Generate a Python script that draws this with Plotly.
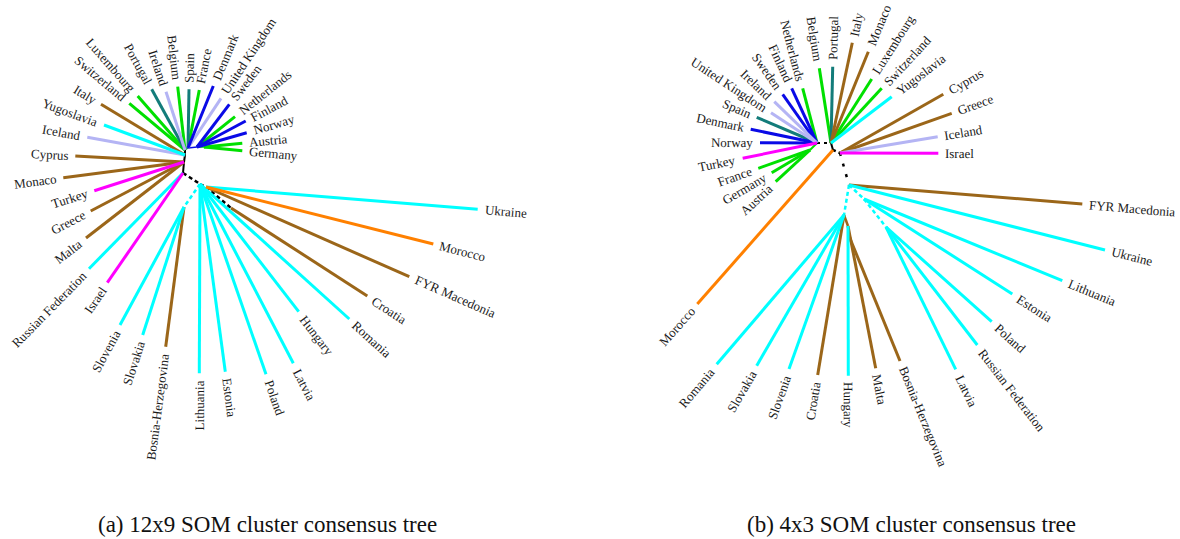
import math
import plotly.graph_objects as go

# ---- colour groups -------------------------------------------------------
COLORS = {
    "green": "#00e000",
    "teal": "#137c7a",
    "lavender": "#b4b4f4",
    "blue": "#0a0ae6",
    "cyan": "#00ffff",
    "brown": "#9b6619",
    "magenta": "#ff00ff",
    "orange": "#ff8000",
    "black": "#000000",
}

# ---- tree (a): 12x9 SOM consensus tree -----------------------------------
a_nodes = {
    "a1": (185, 150), "a2": (188, 148), "a3": (197, 147), "a4": (204, 147),
    "b1": (185, 155), "b2": (184, 162), "c": (183, 173), "d": (200, 184),
    "e": (206, 187), "f": (231, 208), "g": (184, 207),
}
a_edges = [
    ("a1", "a2", "teal", "solid", 1.5), ("a2", "a3", "blue", "solid", 1.5),
    ("a3", "a4", "green", "solid", 1.5), ("a1", "b1", "black", "solid", 2),
    ("b1", "b2", "black", "solid", 2), ("b2", "c", "black", "solid", 2),
    ("c", "d", "black", "dash", 2.5), ("d", "e", "black", "dash", 2.5),
    ("e", "f", "black", "dash", 2.5), ("d", "g", "cyan", "dash", 2.5),
]
a_names = ["Switzerland", "Luxembourg", "Portugal", "Ireland", "Belgium", "Spain",
           "France", "Denmark", "United Kingdom", "Sweden", "Netherlands", "Finland",
           "Norway", "Austria", "Germany", "Italy", "Yugoslavia", "Iceland", "Cyprus",
           "Monaco", "Turkey", "Greece", "Malta", "Russian Federation", "Israel",
           "Slovenia", "Slovakia", "Bosnia-Herzegovina", "Lithuania", "Estonia",
           "Poland", "Latvia", "Hungary", "Romania", "Croatia", "FYR Macedonia",
           "Morocco", "Ukraine"]
a_groups = ["green", "green", "teal", "lavender", "green", "teal",
            "green", "blue", "lavender", "blue", "green", "blue",
            "blue", "green", "green", "brown", "cyan", "lavender", "brown",
            "brown", "magenta", "brown", "brown", "cyan", "magenta",
            "cyan", "cyan", "brown", "cyan", "cyan",
            "cyan", "cyan", "cyan", "cyan", "brown", "brown",
            "orange", "cyan"]
a_parent = ["a1", "a1", "a1", "a1", "a1", "a2",
            "a2", "a2", "a2", "a3", "a3", "a3",
            "a3", "a4", "a4", "b1", "b1", "b1", "b2",
            "b2", "b2", "b2", "b2", "c", "c",
            "g", "g", "g", "d", "d",
            "d", "d", "d", "d", "f", "e",
            "e", "e"]
a_tip_x = [129.3, 137.7, 151.7, 166.0, 177.7, 189.0,
           199.3, 213.3, 221.0, 229.3, 235.0, 245.7,
           246.7, 242.3, 242.3, 101.0, 104.0, 87.3, 75.3,
           63.3, 94.3, 90.7, 86.0, 89.0, 107.3,
           120.0, 142.7, 165.7, 199.3, 225.3,
           266.0, 293.3, 298.7, 349.3, 367.3, 409.3,
           433.3, 477.7]
a_tip_y = [103.3, 96.0, 89.3, 91.7, 86.7, 89.3,
           90.0, 86.0, 98.3, 104.3, 116.7, 121.0,
           132.7, 143.3, 150.7, 104.3, 125.0, 137.3, 156.0,
           177.7, 190.7, 211.0, 238.0, 268.7, 282.7,
           325.0, 335.0, 346.7, 373.3, 371.7,
           374.3, 363.3, 311.7, 319.0, 296.0, 276.7,
           244.0, 209.3]

# ---- tree (b): 4x3 SOM consensus tree ------------------------------------
b_nodes = {
    "A": (817, 143), "A2": (810, 150), "B": (831, 143), "M": (833, 150),
    "C": (840, 153), "D": (849, 185), "E": (864, 199), "F": (886, 227),
    "G": (844, 215), "H": (848, 226), "I": (849, 236),
}
b_edges = [
    ("A2", "A", "green", "solid", 2), ("A", "B", "black", "3px,4px", 2),
    ("B", "M", "black", "solid", 2), ("M", "C", "black", "3px,3px", 2.5),
    ("C", "D", "black", "dot", 2.5), ("D", "E", "cyan", "dash", 2.5),
    ("E", "F", "cyan", "dash", 2.5), ("D", "G", "cyan", "dash", 2.5),
    ("G", "H", "brown", "solid", 2.5), ("H", "I", "brown", "dash", 2.5),
]
b_names = ["Belgium", "Portugal", "Italy", "Monaco", "Luxembourg", "Switzerland",
           "Yugoslavia", "Netherlands", "Finland", "Sweden", "Ireland",
           "United Kingdom", "Spain", "Denmark", "Norway", "Turkey", "France",
           "Germany", "Austria", "Morocco", "Cyprus", "Greece", "Iceland", "Israel",
           "FYR Macedonia", "Ukraine", "Lithuania", "Estonia", "Poland",
           "Russian Federation", "Latvia", "Romania", "Slovakia", "Slovenia",
           "Croatia", "Hungary", "Malta", "Bosnia-Herzegovina"]
b_groups = ["green", "teal", "brown", "brown", "green", "green",
            "cyan", "green", "blue", "blue", "lavender",
            "lavender", "teal", "blue", "blue", "magenta", "green",
            "green", "green", "orange", "brown", "brown", "lavender", "magenta",
            "brown", "cyan", "cyan", "cyan", "cyan",
            "cyan", "cyan", "cyan", "cyan", "cyan",
            "brown", "cyan", "brown", "brown"]
b_parent = ["B", "B", "B", "B", "B", "B",
            "B", "A", "A", "A", "A",
            "A", "A", "A", "A", "A", "A2",
            "A2", "A2", "M", "C", "C", "C", "C",
            "D", "D", "E", "E", "F",
            "F", "F", "G", "G", "G",
            "G", "H", "H", "I"]
b_tip_x = [819.3, 832.7, 852.3, 868.3, 871.7, 881.7,
           891.7, 802.7, 791.7, 782.7, 774.3,
           771.0, 756.7, 750.7, 760.0, 742.7, 758.3,
           771.7, 775.7, 697.3, 943.3, 951.7, 937.7, 938.3,
           1082.3, 1105.0, 1062.3, 1012.3, 991.7,
           977.3, 955.7, 716.7, 756.7, 789.0,
           817.7, 848.3, 875.7, 900.0]
b_tip_y = [68.3, 66.7, 42.7, 51.7, 79.0, 88.3,
           96.7, 88.3, 88.3, 94.3, 101.7,
           112.7, 117.3, 129.3, 142.7, 158.3, 168.3,
           172.7, 181.7, 304.0, 94.3, 113.3, 136.7, 153.3,
           204.0, 250.0, 280.7, 294.0, 321.7,
           345.0, 369.3, 364.3, 365.7, 369.0,
           375.0, 375.7, 368.3, 361.0]

captions = ["(a) 12x9 SOM cluster consensus tree", "(b) 4x3 SOM cluster consensus tree"]
caption_x = [267, 911]

# ---- helpers --------------------------------------------------------------
SERIF = "Liberation Serif, Times New Roman, serif"
LABEL_SIZE = 13
_W = {  # Times advance widths (per em)
    **dict(zip("abcdefghijklmnopqrstuvwxyz",
               [.444, .5, .444, .5, .444, .333, .5, .5, .278, .278, .5, .278, .778,
                .5, .5, .5, .5, .333, .389, .278, .5, .5, .722, .5, .5, .444])),
    **dict(zip("ABCDEFGHIJKLMNOPQRSTUVWXYZ",
               [.722, .667, .667, .722, .611, .556, .722, .722, .333, .389, .722,
                .611, .889, .722, .722, .556, .722, .667, .556, .611, .722, .722,
                .944, .722, .722, .611])),
    " ": .25, "-": .333,
}
DASHES = {"solid": "solid", "dash": "4px,3px", "dot": "3px,8px"}


def text_width(s, size):
    return sum(_W.get(ch, .5) for ch in s) * size


fig = go.Figure()
annotations = []


def draw_tree(nodes, edges, names, groups, parents, tip_x, tip_y):
    # internal edges
    for n1, n2, grp, dash, lw in edges:
        x0, y0 = nodes[n1]
        x1, y1 = nodes[n2]
        fig.add_trace(go.Scatter(
            x=[x0, x1], y=[y0, y1], mode="lines", hoverinfo="skip",
            line=dict(color=COLORS[grp], width=lw, dash=DASHES.get(dash, dash)),
            showlegend=False))
    # leaf branches, one trace per colour group
    by_group = {}
    for name, grp, par, tx, ty in zip(names, groups, parents, tip_x, tip_y):
        sx, sy = nodes[par]
        xs, ys = by_group.setdefault(grp, ([], []))
        xs += [sx, tx, None]
        ys += [sy, ty, None]
        # label along the branch direction, beyond the tip
        dx, dy = tx - sx, ty - sy
        length = math.hypot(dx, dy)
        ux, uy = dx / length, dy / length
        ang = math.degrees(math.atan2(uy, ux))
        flip = ux < 0
        w = text_width(name, LABEL_SIZE)
        off = 7 + w / 2
        cx, cy = tx + ux * off, ty + uy * off
        tang = ang + 180 if flip else ang
        if tang > 180:
            tang -= 360
        annotations.append(dict(
            x=cx, y=cy, xref="x", yref="y", text=name, showarrow=False,
            textangle=tang, xanchor="center", yanchor="middle",
            font=dict(family=SERIF, size=LABEL_SIZE, color="#1a1a1a")))
    for grp, (xs, ys) in by_group.items():
        fig.add_trace(go.Scatter(
            x=xs, y=ys, mode="lines", hoverinfo="skip",
            line=dict(color=COLORS[grp], width=3), showlegend=False))


draw_tree(a_nodes, a_edges, a_names, a_groups, a_parent, a_tip_x, a_tip_y)
draw_tree(b_nodes, b_edges, b_names, b_groups, b_parent, b_tip_x, b_tip_y)

for cap, cx in zip(captions, caption_x):
    annotations.append(dict(
        x=cx, y=524, xref="x", yref="y", text=cap, showarrow=False,
        xanchor="center", yanchor="middle",
        font=dict(family=SERIF, size=23, color="#111111")))

fig.update_layout(
    width=1180, height=539, autosize=False,
    margin=dict(l=0, r=0, t=0, b=0),
    paper_bgcolor="white", plot_bgcolor="white",
    xaxis=dict(range=[0, 1180], visible=False, fixedrange=True),
    yaxis=dict(range=[539, 0], visible=False, fixedrange=True),
    annotations=annotations,
)

fig.write_html("out.html")
